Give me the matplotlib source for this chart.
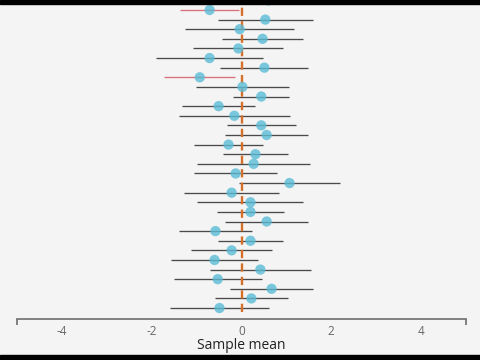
import numpy as np
import matplotlib
matplotlib.use("Agg")
import matplotlib.pyplot as plt
from matplotlib.patches import Rectangle

# sample means and CI half-widths, top row first (row 0 is cut off by the frame)
means = [0.60, -0.71, 0.53, -0.04, 0.47, -0.07, -0.71, 0.51, -0.93, 0.02,
         0.44, -0.51, -0.16, 0.44, 0.56, -0.29, 0.31, 0.27, -0.13, 1.07,
         -0.22, 0.20, 0.20, 0.56, -0.58, 0.20, -0.22, -0.60, 0.42, -0.53,
         0.67, 0.22, -0.49]
margins = [1.10, 0.66, 1.06, 1.21, 0.91, 1.00, 1.19, 0.98, 0.79, 1.03,
           0.62, 0.81, 1.23, 0.77, 0.92, 0.77, 0.73, 1.25, 0.93, 1.12,
           1.06, 1.18, 0.74, 0.92, 0.81, 0.72, 0.90, 0.97, 1.13, 0.98,
           0.93, 0.81, 1.10]
true_mean = 0.0
xticks = [-4, -2, 0, 2, 4]

bg = "#f4f4f4"
fig = plt.figure(figsize=(4.8, 3.6), dpi=100, facecolor=bg)
ax = fig.add_axes([17 / 480, 41 / 360, 449 / 480, 319 / 360], facecolor=bg)

means = np.array(means)
margins = np.array(margins)
rows = np.arange(len(means))
lo, hi = means - margins, means + margins
miss = (hi < true_mean) | (lo > true_mean)

for r, a, b, m in zip(rows, lo, hi, miss):
    ax.plot([a, b], [r, r], color="#d9707a" if m else "#4a4a4a",
            lw=0.95, solid_capstyle="butt", zorder=2)

ax.plot([true_mean, true_mean], [32.45, -1], color="#d56f2c", lw=1.7,
        dashes=(3.5, 2.2), zorder=3)

ax.scatter(means, rows, s=55, color="#5bbcd6", alpha=0.8, edgecolors="none",
           zorder=4)

ax.set_xlim(-5, 5)
ax.set_ylim(33.14, -0.04)
for s in ["left", "right", "top"]:
    ax.spines[s].set_visible(False)
ax.spines["bottom"].set_color("#777777")
ax.spines["bottom"].set_linewidth(1.3)
ax.set_yticks([])
ax.set_xticks(xticks)
ax.set_xticks([-5, 5], minor=True)
ax.tick_params(axis="x", which="major", length=0, pad=4, labelsize=8.5,
               labelcolor="#666666")
ax.tick_params(axis="x", which="minor", length=4, width=1.3, color="#777777")
ax.set_xticklabels([str(t) if t >= 0 else "-" + str(-t) for t in xticks],
                   family="Open Sans")
ax.set_xlabel("Sample mean", family="Open Sans", fontsize=10, color="#222222",
              labelpad=0)

# black letterbox strips of the screenshot
fig.patches.append(Rectangle((0, 1 - 4 / 360), 1, 4 / 360, transform=fig.transFigure,
                             color="black", zorder=10))
fig.patches.append(Rectangle((0, 0), 1, 5 / 360, transform=fig.transFigure,
                             color="black", zorder=10))

fig.savefig("out.png", dpi=100, facecolor=bg)
